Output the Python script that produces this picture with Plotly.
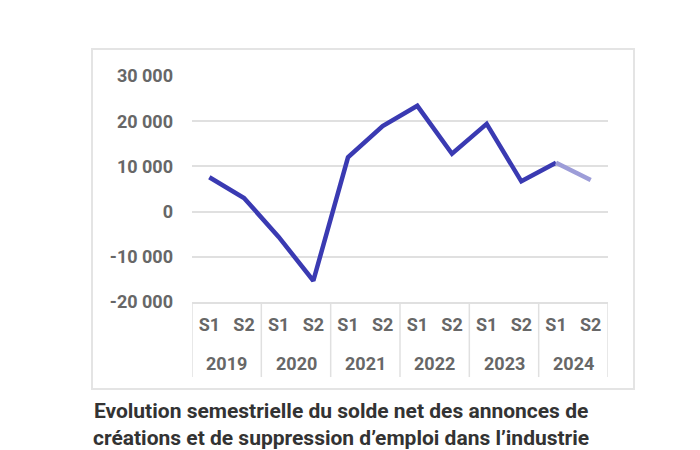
import plotly.graph_objects as go

years = ["2019", "2019", "2020", "2020", "2021", "2021", "2022", "2022", "2023", "2023", "2024", "2024"]
halves = ["S1", "S2"] * 6
values = [7600, 3000, -5600, -15300, 12000, 18900, 23400, 12800, 19400, 6700, 10800, 7000]

year_labels = ["2019", "2020", "2021", "2022", "2023", "2024"]
ytick_vals = [30000, 20000, 10000, 0, -10000, -20000]
ytick_text = ["30 000", "20 000", "10 000", "0", "-10 000", "-20 000"]

title_text = ("Evolution semestrielle du solde net des annonces de<br>"
              "créations et de suppression d\u2019emploi dans l\u2019industrie")

main_color = "#3a3ab2"
light_color = "#9d9dd8"
grey_text = "#676767"
grid_color = "#e0e0e0"

cats = [f"{y} {h}" for y, h in zip(years, halves)]

fig = go.Figure()
fig.add_trace(go.Scatter(
    x=cats[:11], y=values[:11], mode="lines",
    line=dict(color=main_color, width=4.5), showlegend=False))
# projected (last) segment in lighter colour
fig.add_trace(go.Scatter(
    x=cats[10:], y=values[10:], mode="lines",
    line=dict(color=light_color, width=4.5), hoverinfo="skip", showlegend=False))

tick_font = dict(family="Roboto", size=18, color=grey_text, weight="bold")

fig.update_layout(
    width=700, height=450,
    margin=dict(l=192, r=92, t=76, b=148),
    paper_bgcolor="white", plot_bgcolor="white",
    font=dict(family="Roboto", size=18, color=grey_text),
    showlegend=False,
)
fig.update_yaxes(
    range=[-20000, 30000], tickvals=ytick_vals, ticktext=ytick_text,
    showgrid=True, gridcolor=grid_color, gridwidth=1.5, zeroline=False,
    ticklabelstandoff=18, tickfont=tick_font, fixedrange=True,
)
fig.update_xaxes(
    type="category", categoryorder="array", categoryarray=cats,
    tickvals=cats, ticktext=halves, range=[-0.5, len(cats) - 0.5],
    showgrid=False, showline=True, linecolor=grid_color, linewidth=1.5,
    ticks="", ticklabelstandoff=6, tickfont=tick_font, fixedrange=True,
)

# year dividers and year labels (table-like category axis)
n_per_year = 2
for k, yl in enumerate(year_labels):
    fig.add_annotation(
        text=yl, xref="x", yref="paper", x=k * n_per_year + (n_per_year - 1) / 2,
        y=-0.27, xanchor="center", yanchor="middle", showarrow=False, font=tick_font)
for k in range(len(year_labels) + 1):
    xpos = k * n_per_year - 0.5
    fig.add_shape(type="line", xref="x", yref="paper", x0=xpos, x1=xpos,
                  y0=0, y1=-0.332, line=dict(color=grid_color, width=1.5))

# outer frame
fig.add_shape(type="rect", xref="paper", yref="paper",
              x0=-0.2404, x1=1.0625, y0=-0.385, y1=1.119,
              line=dict(color="#e4e4e4", width=2), layer="below")

fig.add_annotation(
    text=title_text, xref="paper", yref="paper", x=0.358, y=-0.54,
    xanchor="center", yanchor="middle", showarrow=False, align="center",
    font=dict(family="Roboto", size=21, color="#333333", weight="bold"),
)

fig.write_html("out.html")
